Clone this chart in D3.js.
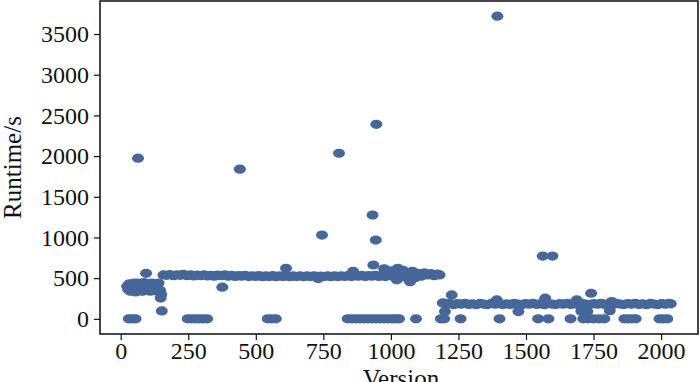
<!DOCTYPE html>
<html>
<head>
<meta charset="utf-8">
<script src="https://cdn.jsdelivr.net/npm/d3@7"></script>
<style>
  body { margin: 0; background: #fff; }
  svg { display: block; }
  text { font-family: "Liberation Serif", "Times New Roman", serif; fill: #111; }
</style>
</head>
<body>
<div id="chart"></div>
<script>
// [version, runtime in seconds]
const earlyCluster = [
  [24,400],[28,360],[32,430],[36,340],[40,410],[45,370],[50,440],[55,330],[60,400],[65,440],
  [70,360],[75,420],[80,340],[85,445],[90,390],[95,350],[100,430],[105,380],[110,340],[115,440],
  [120,400],[125,350],[130,420],[135,380],[140,440],[142,335],[146,350],[150,300],[148,255],[94,560]
];

const upperBand = [
  [158,540],[170,535],[182,545],[195,530],[208,542],[220,535],[232,548],[245,530],[258,540],[270,528],
  [283,538],[296,530],[308,542],[321,528],[334,536],[346,525],[359,538],[372,530],[385,540],[398,525],
  [410,535],[423,522],[436,532],[448,525],[461,535],[474,520],[486,530],[499,522],[512,532],[525,518],
  [537,528],[550,520],[563,532],[575,518],[588,528],[601,520],[614,530],[626,518],[639,528],[652,520],
  [664,530],[677,518],[690,528],[702,520],[715,530],[728,518],[740,526],[753,520],[766,530],[778,518],
  [791,528],[804,520],[816,530],[829,522],[842,532],[854,520],[867,530],[880,524],[892,534],[905,522],
  [918,532],[930,525],[943,535],[956,522],[968,535],[980,520],[992,545],[1002,590],[1012,515],[1022,480],
  [1035,560],[1045,595],[1055,510],[1065,545],[1080,585],[1090,505],[1100,560],[1112,525],[1124,565],[1136,540],
  [1148,555],[1160,530],[1172,550],[1180,540]
];

const lowerBand = [
  [1192,196],[1205,180],[1218,190],[1232,175],[1246,188],[1260,180],[1274,192],[1288,178],[1302,186],[1316,175],
  [1330,190],[1344,182],[1358,176],[1372,190],[1386,180],[1400,188],[1414,176],[1428,185],[1442,178],[1456,190],
  [1470,182],[1484,175],[1498,188],[1512,180],[1526,192],[1540,178],[1554,186],[1568,175],[1582,190],[1596,182],
  [1610,176],[1624,188],[1638,180],[1652,192],[1666,178],[1680,186],[1694,175],[1708,190],[1722,182],[1736,176],
  [1750,188],[1764,180],[1778,192],[1792,178],[1806,186],[1820,175],[1834,190],[1848,182],[1862,176],[1876,188],
  [1890,180],[1904,192],[1918,178],[1932,186],[1946,175],[1960,190],[1974,182],[1988,176],[2002,188],[2016,180],
  [2030,190],[2036,185]
];

const zeroRuns = [
  [30,0],[42,0],[55,0],
  [248,0],[262,0],[276,0],[290,0],[305,0],[320,0],
  [544,0],[558,0],[574,0],
  [840,0],[855,0],[870,0],[885,0],[900,0],[915,0],[930,0],[945,0],[960,0],[975,0],[990,0],[1005,0],[1018,0],[1030,0],
  [1093,0],[1185,0],[1197,0],[1258,0],[1402,0],
  [1545,0],[1583,0],[1665,0],[1712,0],[1730,0],[1750,0],[1770,0],[1790,0],
  [1864,0],[1878,0],[1892,0],[1906,0],[1994,0],[2008,0],[2023,0]
];

const midPoints = [
  [152,98],[376,389],[612,621],[731,495],[860,585],[935,662],[975,615],[1026,621],[1071,457],
  [1200,90],[1225,294],[1392,233],[1472,90],[1571,254],[1688,233],[1705,95],[1727,90],[1741,315],
  [1810,100],[1817,212]
];

const outliers = [
  [64,1975],[441,1840],[745,1030],[808,2035],[932,1275],[944,968],[946,2390],[1394,3720],[1562,772],[1598,772]
];

const xTicks = [0, 250, 500, 750, 1000, 1250, 1500, 1750, 2000];
const yTicks = [0, 500, 1000, 1500, 2000, 2500, 3000, 3500];

const allPoints = [].concat(earlyCluster, upperBand, lowerBand, zeroRuns, midPoints, outliers);

const W = 700, H = 382;
const plot = { left: 100, right: 698, top: 1, bottom: 334 };

// matplotlib-style 5% margins around the data
const xExt = d3.extent(allPoints, d => d[0]);
const yExt = d3.extent(allPoints, d => d[1]);
const xPad = (xExt[1] - xExt[0]) * 0.05;
const yPad = (yExt[1] - yExt[0]) * 0.05;

const x = d3.scaleLinear().domain([xExt[0] - xPad, xExt[1] + xPad]).range([plot.left, plot.right]);
const y = d3.scaleLinear().domain([yExt[0] - yPad, yExt[1] + yPad]).range([plot.bottom, plot.top]);

const svg = d3.select("#chart").append("svg")
  .attr("width", W)
  .attr("height", H);

// points
svg.append("g")
  .selectAll("ellipse")
  .data(allPoints)
  .enter()
  .append("ellipse")
  .attr("cx", d => x(d[0]))
  .attr("cy", d => y(d[1]))
  .attr("rx", 6)
  .attr("ry", 4.6)
  .attr("fill", "#45679a");

// axes
const fmt = d3.format("d");
const xAxis = svg.append("g")
  .attr("transform", `translate(0,${plot.bottom})`)
  .call(d3.axisBottom(x).tickValues(xTicks).tickFormat(fmt).tickSize(6).tickSizeOuter(0).tickPadding(2));
const yAxis = svg.append("g")
  .attr("transform", `translate(${plot.left},0)`)
  .call(d3.axisLeft(y).tickValues(yTicks).tickFormat(fmt).tickSize(6).tickSizeOuter(0).tickPadding(5));

[xAxis, yAxis].forEach(a => {
  a.attr("font-family", null).attr("font-size", null);
  a.select(".domain").remove();
  a.selectAll(".tick line").attr("stroke", "#111").attr("stroke-width", 1.2);
  a.selectAll(".tick text")
    .attr("fill", "#111")
    .style("font-family", '"Liberation Serif", "Times New Roman", serif')
    .style("font-size", "24px");
});

// frame
svg.append("rect")
  .attr("x", plot.left)
  .attr("y", plot.top)
  .attr("width", plot.right - plot.left)
  .attr("height", plot.bottom - plot.top)
  .attr("fill", "none")
  .attr("stroke", "#1a1a1a")
  .attr("stroke-width", 1.6);

// axis titles
svg.append("text")
  .attr("x", (plot.left + plot.right) / 2 + 2)
  .attr("y", 387)
  .attr("text-anchor", "middle")
  .style("font-size", "25px")
  .text("Version");

svg.append("text")
  .attr("transform", `translate(21,${(plot.top + plot.bottom) / 2}) rotate(-90)`)
  .attr("text-anchor", "middle")
  .style("font-size", "25px")
  .text("Runtime/s");
</script>
</body>
</html>
